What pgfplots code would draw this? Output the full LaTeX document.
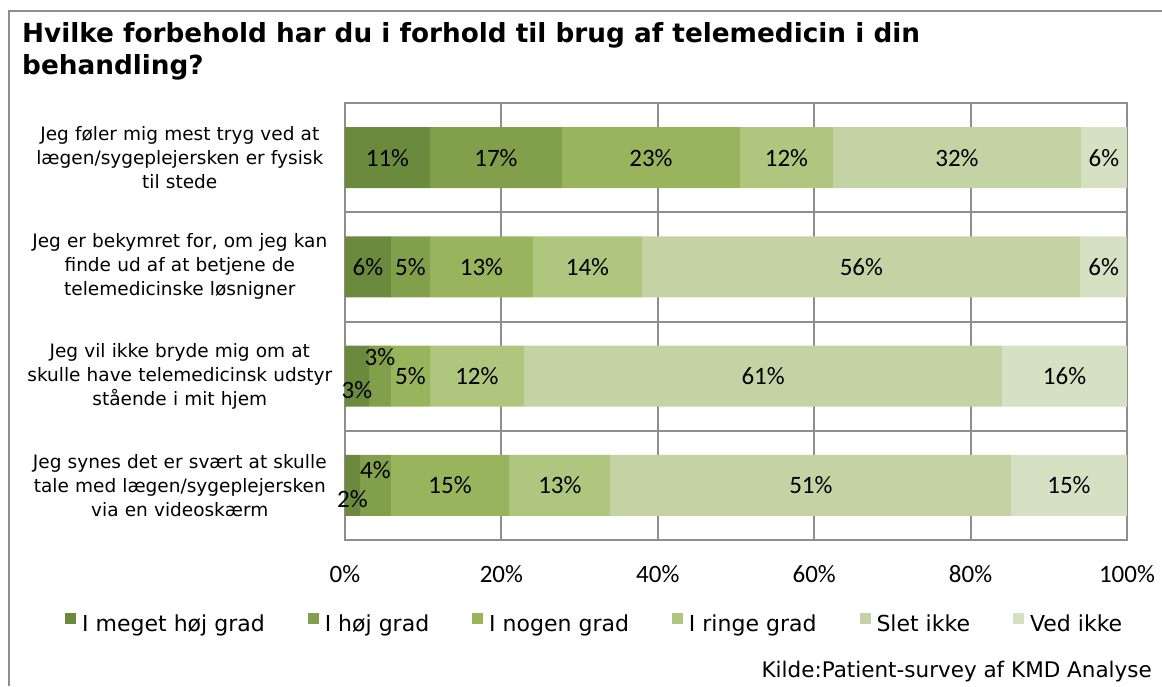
\documentclass[border=0pt]{standalone}
\usepackage{pgfplots}
\pgfplotsset{compat=1.18}
\usepackage{pgfplotstable}
\usepackage{fontspec}
\setmainfont{DejaVu Sans}
\newfontfamily\verd{DejaVu Sans}
\newfontfamily\calfont{Carlito}
\definecolor{c1}{HTML}{6B8A3E}
\definecolor{c2}{HTML}{82A04B}
\definecolor{c3}{HTML}{98B45C}
\definecolor{c4}{HTML}{AEC67E}
\definecolor{c5}{HTML}{C3D3A4}
\definecolor{c6}{HTML}{D6E0C2}
\definecolor{gridc}{HTML}{8E8E8E}

\pgfplotstableread{
y x dy
0 10.87 0
1 5.88 0
2 3.07 -14
3 1.92 -14
}\sA
\pgfplotstableread{
y x dy
0 16.88 0
1 4.99 0
2 2.81 19
3 3.96 15
}\sB
\pgfplotstableread{
y x dy
0 22.76 0
1 13.17 0
2 4.99 0
3 15.1 0
}\sC
\pgfplotstableread{
y x dy
0 11.89 0
1 13.94 0
2 12.0 0
3 13.0 0
}\sD
\pgfplotstableread{
y x dy
0 31.71 0
1 56.1 0
2 61.2 0
3 51.2 0
}\sE
\pgfplotstableread{
y x dy
0 5.88 0
1 5.88 0
2 15.9 0
3 14.8 0
}\sF

\begin{document}
\begin{tikzpicture}
\path[use as bounding box] (0,0) rectangle (1162pt,686pt);
\draw[gridc, line width=2pt] (9pt,0) -- (9pt,675pt) -- (1162pt,675pt);
\node[anchor=base west, inner sep=0pt, font=\verd\bfseries\fontsize{26.3}{30}\selectfont] at (22pt,643pt) {Hvilke forbehold har du i forhold til brug af telemedicin i din};
\node[anchor=base west, inner sep=0pt, font=\verd\bfseries\fontsize{26.3}{30}\selectfont] at (22pt,611pt) {behandling?};
\begin{axis}[
  at={(345pt,146pt)}, anchor=south west,
  scale only axis, width=782pt, height=437pt,
  xbar stacked, bar width=61pt,
  xmin=0, xmax=100, ymin=-0.5, ymax=3.5, y dir=reverse,
  /pgf/number format/assume math mode=true,
  xtick={0,20,...,100}, ytick={0,1,2,3},
  xticklabel={\pgfmathprintnumber{\tick}\%},
  yticklabels={{Jeg føler mig mest tryg ved at\\lægen/sygeplejersken er fysisk\\til stede},
               {Jeg er bekymret for, om jeg kan\\finde ud af at betjene de\\telemedicinske løsnigner},
               {Jeg vil ikke bryde mig om at\\skulle have telemedicinsk udstyr\\stående i mit hjem},
               {Jeg synes det er svært at skulle\\tale med lægen/sygeplejersken\\via en videoskærm}},
  yticklabel style={anchor=east, align=center, text width=320pt, inner sep=0pt, xshift=-5pt,
    font=\verd\fontsize{18.5}{24}\selectfont},
  xticklabel style={anchor=base, inner sep=0pt, yshift=-42pt, font=\calfont\fontsize{25}{25}\selectfont},
  minor ytick={-0.5,0.5,1.5,2.5,3.5},
  yminorgrids=true, xmajorgrids=true,
  grid style={gridc, line width=2pt},
  minor grid style={gridc, line width=2pt},
  axis line style={gridc, line width=2pt},
  major tick length=0pt, minor tick length=0pt,
  point meta=x,
  nodes near coords={\pgfmathprintnumber[fixed,precision=0]{\segw}\%},
  visualization depends on={\thisrow{x} \as \segw},
  visualization depends on={\thisrow{dy} \as \dy},
  every node near coord/.append style={anchor=center, black, inner sep=0pt,
    font=\calfont\fontsize{25}{25}\selectfont, yshift=\dy pt},
  legend columns=6,
  legend style={at={(axis description cs:-0.358,-0.190)}, anchor=west, draw=none, fill=none,
    inner sep=0pt, nodes={inner sep=0pt},
    font=\verd\fontsize{22}{26}\selectfont,
    /tikz/every even column/.append style={column sep=43pt},
    /tikz/every odd column/.append style={column sep=6pt}},
  legend image code/.code={\draw[#1,draw=none] (0pt,0pt) rectangle (11pt,11pt);},
]
\addplot[fill=c1, draw=none] table[x=x,y=y] {\sA};
\addplot[fill=c2, draw=none] table[x=x,y=y] {\sB};
\addplot[fill=c3, draw=none] table[x=x,y=y] {\sC};
\addplot[fill=c4, draw=none] table[x=x,y=y] {\sD};
\addplot[fill=c5, draw=none] table[x=x,y=y] {\sE};
\addplot[fill=c6, draw=none] table[x=x,y=y] {\sF};
\legend{I meget høj grad, I høj grad, I nogen grad, I ringe grad, Slet ikke, Ved ikke}
\end{axis}
\node[anchor=base east, inner sep=0pt, font=\verd\fontsize{21.5}{26}\selectfont] at (1152pt,9pt) {Kilde:Patient-survey af KMD Analyse};
\end{tikzpicture}
\end{document}
